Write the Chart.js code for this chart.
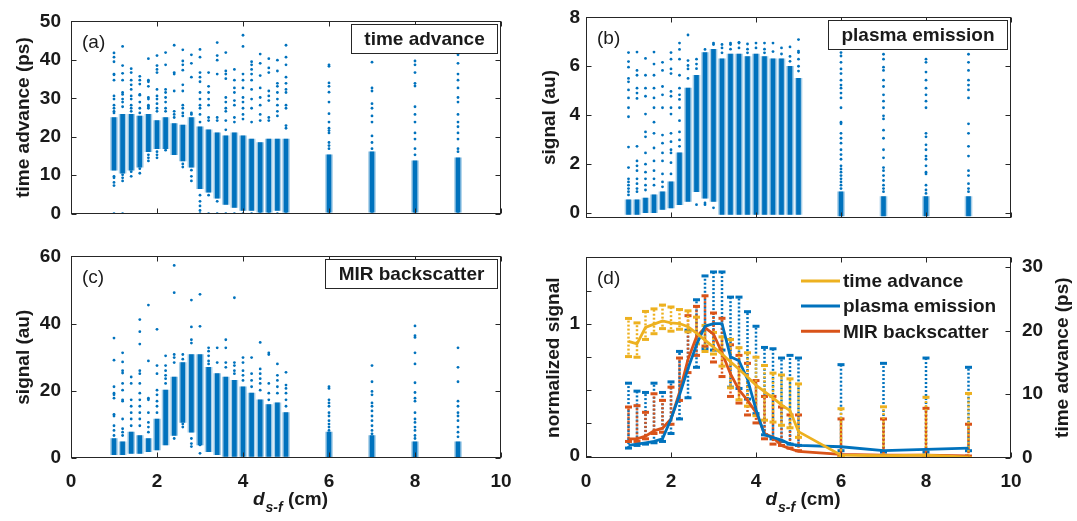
<!DOCTYPE html>
<html>
<head>
<meta charset="utf-8">
<script src="https://cdn.jsdelivr.net/npm/chart.js@4.4.0/dist/chart.umd.min.js"></script>
<style>
  html, body { margin: 0; padding: 0; background: #fff; }
  body { width: 1077px; height: 521px; position: relative; overflow: hidden; }
  canvas { position: absolute; }
</style>
</head>
<body>
<canvas id="chartA" width="540" height="235" style="left:0;top:0"></canvas>
<canvas id="chartB" width="547" height="235" style="left:530px;top:0"></canvas>
<canvas id="chartC" width="540" height="286" style="left:0;top:235px"></canvas>
<canvas id="chartD" width="547" height="286" style="left:530px;top:235px"></canvas>
<script>
// source-to-focus distance of each measurement column (cm)
const xCols = [1.0, 1.2, 1.4, 1.6, 1.8, 2.0, 2.2, 2.4, 2.6, 2.8, 3.0, 3.2, 3.4, 3.6, 3.8, 4.0, 4.2, 4.4, 4.6, 4.8, 5.0, 6, 7, 8, 9];
const xTicks = [0, 2, 4, 6, 8, 10];

// (a) time advance (ps): dense band per column + scattered shots
const taTicks = [0, 10, 20, 30, 40, 50];
const taCoreLo = [11.3, 10.5, 11.3, 12.1, 16.1, 16.9, 16.9, 15.3, 13.7, 12.1, 6.5, 5.6, 4.0, 2.4, 1.6, 0.8, 0.8, 0.4, 0.4, 0.8, 0.4, 0.4, 0.4, 0.4, 0.4];
const taCoreHi = [25.0, 25.8, 25.8, 25.4, 25.8, 24.2, 25.0, 23.4, 23.0, 25.0, 22.6, 21.8, 21.0, 20.2, 21.0, 20.2, 19.4, 18.5, 19.4, 19.4, 19.4, 15.3, 16.1, 13.7, 14.5];
const taShots = [
  [41.8, 40.7, 39.5, 36.3, 36.1, 34.7, 30.6, 29.8, 28.2, 27.4, 26.6, 26.2, 9.7, 9.3, 8.1, 7.3, 0],
  [43.5, 38.5, 36.5, 34.7, 31.5, 31.0, 29.8, 29.0, 27.8, 10.1, 9.3, 8.5, 0],
  [37.7, 36.7, 34.7, 33.5, 32.3, 30.6, 29.8, 28.2, 27.4, 26.6, 10.9, 9.7],
  [35.7, 34.7, 33.7, 31.0, 30.8, 29.0, 27.4, 26.2, 12.5, 11.7, 10.5],
  [40.3, 34.7, 34.3, 33.1, 30.2, 29.8, 28.2, 27.8, 27.4, 15.3, 14.5, 13.7],
  [41.1, 38.5, 37.5, 36.7, 32.3, 30.6, 29.8, 28.6, 27.4, 26.6, 16.1, 15.3, 14.5],
  [41.9, 38.7, 32.3, 31.5, 30.2, 29.0, 27.4, 26.6, 16.5],
  [43.8, 36.7, 36.3, 31.9, 26.6, 25.8, 25.0],
  [42.6, 39.7, 38.7, 37.3, 33.5, 31.9, 28.2, 27.4, 26.2, 25.4, 12.9, 12.1],
  [41.3, 39.1, 35.5, 26.2, 25.8, 11.3, 9.7, 8.5],
  [42.7, 40.7, 36.7, 35.5, 34.3, 31.5, 29.8, 28.2, 27.4, 25.8, 23.8, 4.8, 3.2, 2.0, 0.8, 0],
  [36.7, 33.1, 31.5, 29.8, 28.2, 25.0, 24.2, 4.8, 0],
  [44.5, 41.1, 39.9, 36.3, 25.0, 24.2, 3.2, 0],
  [41.9, 37.1, 36.3, 35.1, 30.2, 29.0, 27.4, 26.6, 24.2, 21.8, 0],
  [37.5, 34.7, 32.7, 31.5, 29.4, 28.2, 25.0, 23.8, 0],
  [46.4, 43.5, 36.3, 34.7, 32.7, 30.2, 29.0, 27.4, 25.8, 24.6, 0],
  [39.5, 38.7, 37.5, 36.3, 34.7, 32.3, 29.8, 27.4, 23.8, 0],
  [41.5, 39.1, 35.9, 32.7, 30.2, 28.2, 25.8, 24.2, 0],
  [40.3, 37.9, 36.7, 31.9, 30.6, 29.4, 25.0, 24.2, 0],
  [39.9, 37.1, 33.9, 33.1, 31.5, 29.8, 28.2, 26.6, 25.4, 0],
  [43.8, 40.7, 38.7, 35.5, 33.9, 32.3, 31.5, 28.2, 27.4, 22.9, 22.2, 0],
  [38.7, 38.3, 34.0, 33.1, 31.6, 29.0, 26.0, 23.8, 22.2, 21.6, 21.0, 18.5, 17.7, 16.9, 0],
  [42.5, 39.4, 32.7, 31.9, 28.6, 27.4, 25.4, 23.8, 20.2, 18.5, 16.9, 0],
  [39.7, 38.7, 36.7, 33.9, 33.2, 27.8, 25.8, 23.8, 21.0, 19.4, 16.9, 15.3, 0],
  [41.3, 39.1, 36.3, 34.7, 32.7, 30.2, 29.0, 25.8, 23.8, 22.6, 21.0, 19.4, 16.9, 16.1, 0]
];

// (b) plasma emission signal (au)
const plTicks = [0, 2, 4, 6, 8];
const plCoreLo = [-0.07, -0.07, 0, 0, 0.13, 0.2, 0.33, 0.46, 0.86, 0.6, 0.46, -0.07, -0.07, -0.07, -0.07, -0.07, -0.07, -0.07, -0.07, -0.07, -0.07, -0.13, -0.13, -0.13, -0.13];
const plCoreHi = [0.53, 0.53, 0.6, 0.73, 0.86, 1.26, 2.45, 5.1, 5.63, 6.56, 6.69, 6.3, 6.5, 6.5, 6.4, 6.5, 6.4, 6.3, 6.3, 6.0, 5.5, 0.86, 0.66, 0.66, 0.66];
const plShots = [
  [6.56, 6.19, 5.96, 5.50, 5.36, 5.03, 4.70, 4.30, 3.93, 2.69, 1.85, 1.39, 1.26, 1.13, 0.99, 0.86, 0.73],
  [6.58, 5.83, 5.63, 5.10, 4.90, 4.68, 2.72, 2.12, 1.92, 1.72, 1.39, 1.19, 0.99, 0.86],
  [6.32, 5.63, 5.10, 4.77, 4.04, 3.31, 3.11, 2.45, 1.99, 1.66, 1.39, 1.13, 0.93],
  [6.58, 6.09, 5.63, 5.10, 4.70, 4.30, 3.71, 3.25, 2.65, 2.12, 1.72, 1.39, 1.13],
  [6.16, 5.83, 5.17, 4.83, 4.30, 3.18, 2.85, 2.45, 2.12, 1.59, 1.26, 1.06],
  [6.56, 6.29, 5.89, 5.70, 4.97, 4.77, 4.30, 4.04, 3.25, 2.91, 2.58, 2.45, 2.05, 1.59],
  [6.95, 6.69, 6.29, 5.63, 5.10, 4.83, 4.64, 4.30, 3.77, 3.31, 2.98, 2.72],
  [7.28, 6.23, 6.03, 5.89, 5.50],
  [6.29, 6.09, 5.90, 0.33],
  [6.69, 0.40, 0.33],
  [6.95, 6.89, 0.20],
  [6.89, 6.75, 6.55, 0.13],
  [6.95, 6.89, 6.70],
  [6.98, 6.95, 6.75],
  [6.91, 6.70, 6.55],
  [6.95, 6.75],
  [6.95, 6.70, 6.55],
  [6.95, 6.60],
  [6.75, 6.50],
  [6.79, 6.40, 6.20],
  [7.09, 6.62, 6.56, 6.29, 6.00, 5.80],
  [6.56, 6.42, 6.16, 5.89, 5.70, 5.43, 5.23, 5.10, 4.90, 4.70, 4.30, 3.71, 3.64, 3.25, 3.05, 2.85, 2.58, 2.38, 2.19, 1.92, 1.79, 1.66, 1.52, 1.39, 1.26, 1.13, 0.99],
  [6.49, 6.29, 5.96, 5.83, 5.43, 5.17, 4.83, 4.57, 4.30, 3.97, 3.84, 3.38, 3.05, 2.58, 2.25, 1.85, 1.72, 1.52, 1.32, 1.13, 0.99, 0.86],
  [6.82, 6.29, 6.16, 5.76, 5.43, 5.10, 4.83, 4.57, 4.30, 3.25, 3.11, 2.78, 2.58, 2.32, 2.19, 1.92, 1.66, 1.59, 1.13, 0.93, 0.79],
  [6.49, 6.16, 5.83, 5.43, 5.23, 5.03, 4.70, 3.64, 3.25, 2.72, 2.32, 1.72, 1.52, 1.19, 0.99, 0.86]
];

// (c) MIR backscatter signal (au)
const mirTicks = [0, 20, 40, 60];
const mirCoreLo = [1.0, 1.0, 1.4, 1.4, 1.9, 2.4, 3.9, 6.7, 10.6, 7.7, 3.9, 1.9, 1.0, 0.5, 0.5, 0.5, 0.5, 0.5, 0.5, 0.5, 0.5, 0, 0, 0, 0];
const mirCoreHi = [5.8, 4.8, 7.7, 6.7, 5.8, 11.6, 20.2, 24.1, 28.4, 30.8, 30.8, 27.0, 25.1, 24.1, 23.1, 21.2, 19.3, 17.3, 15.9, 16.4, 13.5, 7.7, 6.7, 4.8, 4.8];
const mirShots = [
  [35.7, 29.1, 21.2, 19.3, 18.8, 17.8, 13.0, 12.5, 9.6, 8.2, 6.7],
  [31.3, 28.6, 26.0, 25.3, 22.2, 20.2, 17.3, 16.9, 11.6, 8.7, 7.7, 6.7],
  [24.1, 22.2, 17.3, 15.4, 13.5, 11.6, 9.6],
  [41.2, 37.6, 33.9, 26.0, 25.1, 22.2, 19.3, 17.3, 15.4, 13.5, 11.6, 9.6],
  [45.5, 28.9, 17.8, 17.3, 13.5, 10.6, 9.2, 7.7],
  [38.3, 27.5, 25.1, 20.2, 18.8, 16.9, 15.4, 13.5],
  [30.4, 27.5, 26.0, 24.6, 23.6, 22.2, 6.3, 4.8],
  [57.3, 49.2, 30.8, 29.9, 28.4, 5.8],
  [30.8, 29.4, 10.1, 9.2],
  [47.0, 39.0, 35.2, 34.2, 5.8, 4.3, 3.4],
  [48.7, 39.2, 29.9, 3.9, 1.4],
  [32.8, 31.8, 30.4, 28.9, 28.0],
  [32.8, 28.4],
  [35.2, 32.8, 28.4, 27.0],
  [47.7, 28.4, 27.5, 26.0, 25.1],
  [29.9, 28.4, 26.0, 24.6, 23.1],
  [29.9, 25.1, 23.1, 21.2],
  [34.4, 26.5, 25.1, 23.6, 22.2, 20.2],
  [31.3, 30.8, 22.2, 19.3, 17.3],
  [28.0, 24.6, 23.1, 21.2, 19.3],
  [25.5, 21.7, 20.7, 19.3, 17.3, 15.4],
  [21.2, 20.7, 17.3, 16.4, 15.4, 13.5, 12.5, 11.1, 10.1, 9.2, 8.2],
  [27.5, 22.7, 19.8, 18.8, 16.4, 15.4, 14.0, 12.5, 11.1, 9.6, 8.2, 7.2],
  [39.3, 36.4, 35.9, 31.3, 28.0, 22.4, 19.5, 17.8, 16.9, 13.5, 11.6, 10.6, 9.2, 8.2, 6.7, 5.8],
  [32.8, 27.0, 22.7, 16.9, 15.4, 13.5, 12.5, 11.1, 9.2, 7.7, 6.3]
];

// (d) column summaries: line value and error bar ends
const normTicks = [0, 0.25, 0.5, 0.75, 1, 1.25];
const normLabels = ['0', '', '', '', '1', ''];
const taRightTicks = [0, 10, 20, 30];
const taLine = [18.3, 17.9, 20.5, 21.0, 21.5, 21.2, 21.1, 20.6, 19.6, 18.5, 17.4, 16.3, 15.1, 13.9, 12.7, 11.4, 10.4, 9.4, 8.3, 7.4, 4.1, 0.4, 0.3, 0.4, 0.1];
const taHi = [21.9, 21.2, 23.0, 23.4, 24.0, 23.7, 23.3, 23.1, 22.1, 20.8, 19.7, 19.0, 18.6, 17.3, 16.5, 15.8, 14.5, 13.3, 13.0, 12.4, 11.6, 7.7, 8.0, 9.5, 10.1];
const taLo = [15.9, 15.8, 18.6, 19.5, 20.3, 19.9, 20.2, 19.8, 17.9, 16.7, 16.3, 14.4, 11.0, 9.1, 8.1, 6.6, 5.9, 5.6, 5.1, 4.7, 3.2, 0.1, 0.1, 0.1, 0];
const plLine = [0.08, 0.09, 0.10, 0.11, 0.13, 0.28, 0.46, 0.66, 0.84, 0.98, 1.0, 1.0, 0.75, 0.72, 0.58, 0.35, 0.16, 0.14, 0.12, 0.09, 0.08, 0.07, 0.04, 0.05, 0.06];
const plHi = [0.55, 0.49, 0.48, 0.55, 0.48, 0.56, 0.79, 0.95, 1.18, 1.36, 1.39, 1.39, 1.20, 1.20, 1.09, 0.98, 0.82, 0.81, 0.74, 0.76, 0.74, 0.69, 0.70, 0.74, 0.67];
const plLo = [0.06, 0.08, 0.09, 0.10, 0.11, 0.17, 0.28, 0.44, 0.67, 0.81, 0.80, 0.80, 0.52, 0.51, 0.43, 0.32, 0.16, 0.13, 0.11, 0.09, 0.08, 0.04, 0.03, 0.03, 0.04];
const mirLine = [0.13, 0.13, 0.15, 0.19, 0.21, 0.28, 0.48, 0.73, 0.90, 0.97, 0.92, 0.78, 0.62, 0.50, 0.42, 0.33, 0.17, 0.14, 0.08, 0.055, 0.035, 0.012, 0.007, 0.007, 0];
const mirHi = [0.37, 0.38, 0.33, 0.47, 0.42, 0.52, 0.74, 1.06, 1.13, 1.21, 1.08, 1.04, 0.84, 0.76, 0.70, 0.57, 0.45, 0.45, 0.37, 0.31, 0.31, 0.28, 0.28, 0.36, 0.24];
const mirLo = [0.11, 0.11, 0.13, 0.17, 0.18, 0.24, 0.42, 0.63, 0.76, 0.83, 0.71, 0.60, 0.45, 0.40, 0.31, 0.25, 0.13, 0.09, 0.08, 0.06, 0.04, 0, 0, 0, 0];

const BLUE = '#0072BD', ORANGE = '#D95319', YELLOW = '#EDB120', INK = '#1a1a1a', EDGE = '#262626';
const HALO = 'rgba(0,114,189,0.35)';
const FONT = '"Liberation Sans", Arial, Helvetica, sans-serif';
Chart.defaults.font.family = FONT;
Chart.defaults.font.size = 19;
Chart.defaults.font.weight = 'bold';
Chart.defaults.color = INK;

// matlab-ish box, inward ticks, panel letters, label boxes, error bars
const decor = {
  id: 'decor',
  beforeDatasetsDraw(chart, args, o) {
    if (!o.errorBars) return;
    const ctx = chart.ctx, a = chart.chartArea, xs = chart.scales.x;
    ctx.save();
    ctx.beginPath();
    ctx.rect(a.left, a.top, a.right - a.left, a.bottom - a.top);
    ctx.clip();
    o.errorBars.forEach((k, n) => {
      const ds = chart.data.datasets[k];
      const ys = chart.scales[ds.yAxisID];
      ctx.strokeStyle = ds.borderColor;
      ctx.fillStyle = ds.borderColor;
      ctx.lineWidth = 2.5;
      ctx.setLineDash([2, 2]);
      ctx.lineDashOffset = n;
      ds.data.forEach((p, i) => {
        const px = xs.getPixelForValue(p.x);
        const top = ys.getPixelForValue(ds.errHi[i]);
        const bot = ys.getPixelForValue(ds.errLo[i]);
        ctx.beginPath();
        ctx.moveTo(px, bot);
        ctx.lineTo(px, top);
        ctx.stroke();
        ctx.fillRect(px - 3.5, top - 1.5, 7, 3);
        ctx.fillRect(px - 3.5, bot - 1.5, 7, 3);
      });
    });
    ctx.restore();
  },
  afterDatasetsDraw(chart, args, o) {
    const ctx = chart.ctx, a = chart.chartArea;
    const xs = chart.scales.x, ys = chart.scales.y, y2 = chart.scales.y2;
    const seg = (x1, y1, x2, yy2) => { ctx.beginPath(); ctx.moveTo(x1, y1); ctx.lineTo(x2, yy2); ctx.stroke(); };
    ctx.save();
    ctx.setLineDash([]);
    ctx.strokeStyle = EDGE;
    ctx.lineWidth = 1;
    const l = Math.round(a.left) + 0.5, r = Math.round(a.right) - 0.5;
    const t = Math.round(a.top) + 0.5, b = Math.round(a.bottom) - 0.5;
    ctx.strokeRect(l, t, r - l, b - t);
    const L = 5;
    xs.ticks.forEach(tk => {
      const px = Math.round(xs.getPixelForValue(tk.value)) + 0.5;
      seg(px, b, px, b - L); seg(px, t, px, t + L);
    });
    ys.ticks.forEach(tk => {
      const py = Math.round(ys.getPixelForValue(tk.value)) + 0.5;
      seg(l, py, l + L, py);
      if (!y2) seg(r, py, r - L, py);
    });
    if (y2) y2.ticks.forEach(tk => {
      const py = Math.round(y2.getPixelForValue(tk.value)) + 0.5;
      seg(r, py, r - L, py);
    });

    ctx.fillStyle = INK;
    ctx.textBaseline = 'middle';
    if (o.letter) {
      ctx.font = `19px ${FONT}`;
      ctx.textAlign = 'left';
      ctx.fillText(o.letter, a.left + 11, a.top + 21);
    }
    if (o.tag) {
      ctx.font = `bold 19px ${FONT}`;
      const w = Math.round(ctx.measureText(o.tag).width + 26), h = 29;
      const x0 = Math.round(a.right - 4 - w) + 0.5, y0 = Math.round(a.top + 3) + 0.5;
      ctx.fillStyle = '#fff';
      ctx.fillRect(x0, y0, w, h);
      ctx.strokeStyle = EDGE;
      ctx.strokeRect(x0, y0, w, h);
      ctx.fillStyle = INK;
      ctx.textAlign = 'center';
      ctx.fillText(o.tag, x0 + w / 2, y0 + h / 2 + 1);
    }
    if (o.legend) {
      ctx.font = `bold 19px ${FONT}`;
      ctx.textAlign = 'left';
      chart.data.datasets.forEach((ds, i) => {
        const y = a.top + 23.5 + i * 25.2;
        ctx.strokeStyle = ds.borderColor;
        ctx.lineWidth = 3;
        seg(a.right - 210, y, a.right - 171, y);
        ctx.fillStyle = INK;
        ctx.fillText(ds.label, a.right - 168, y + 1);
      });
    }
    if (o.rightTitle) {
      ctx.save();
      ctx.translate(chart.width - 14, (a.top + a.bottom) / 2);
      ctx.rotate(-Math.PI / 2);
      ctx.font = `bold 19px ${FONT}`;
      ctx.textAlign = 'center';
      ctx.fillStyle = INK;
      ctx.fillText(o.rightTitle, 0, 0);
      ctx.restore();
    }
    if (o.xTitle) {
      const f1 = `italic bold 19px ${FONT}`, f2 = `italic bold 14px ${FONT}`, f3 = `bold 19px ${FONT}`;
      ctx.textAlign = 'left';
      ctx.textBaseline = 'alphabetic';
      ctx.font = f1; const w1 = ctx.measureText('d').width;
      ctx.font = f2; const w2 = ctx.measureText('s-f').width;
      ctx.font = f3; const w3 = ctx.measureText(' (cm)').width;
      let x = (a.left + a.right) / 2 + 4 - (w1 + w2 + w3) / 2;
      const base = a.bottom + 47;
      ctx.fillStyle = INK;
      ctx.font = f1; ctx.fillText('d', x, base); x += w1 + 1;
      ctx.font = f2; ctx.fillText('s-f', x, base + 7); x += w2;
      ctx.font = f3; ctx.fillText(' (cm)', x, base);
    }
    ctx.restore();
  }
};
Chart.register(decor);

function xAxis(withLabels) {
  return {
    type: 'linear', min: 0, max: 10, offset: false,
    grid: { display: false, drawTicks: false },
    border: { display: false },
    afterBuildTicks: s => { s.ticks = xTicks.map(v => ({ value: v })); },
    afterFit: s => { s.height = withLabels ? 63 : 12; },
    ticks: { display: withLabels, padding: 12, autoSkip: false, maxRotation: 0, callback: v => String(v) }
  };
}

function yAxis(o) {
  return {
    type: 'linear', position: o.position || 'left', min: o.min, max: o.max,
    grid: { display: false, drawTicks: false },
    border: { display: false },
    afterBuildTicks: s => { s.ticks = o.ticks.map(v => ({ value: v })); },
    afterFit: s => { s.width = o.width; },
    ticks: { padding: o.tickPad, autoSkip: false, callback: (v, i) => o.labels ? o.labels[i] : String(v) },
    title: { display: !!o.title, text: o.title, padding: { top: o.titlePad || 0, bottom: 0 }, font: { size: 19, weight: 'bold' } }
  };
}

function scatterPanel(id, lo, hi, shots, xLabels, y, pad, deco) {
  const band = xCols.map((x, i) => ({ x, y: [lo[i], hi[i]] }));
  return new Chart(document.getElementById(id), {
    type: 'scatter',
    data: {
      datasets: [
        {
          type: 'scatter',
          data: shots.flatMap((ys, i) => ys.map(v => ({ x: xCols[i], y: v }))),
          pointRadius: 1.4, pointBackgroundColor: BLUE, pointBorderWidth: 0
        },
        {
          type: 'bar', data: band,
          backgroundColor: BLUE, borderWidth: 0, borderSkipped: false, barThickness: 4
        },
        {
          type: 'bar', data: band, grouped: false,
          backgroundColor: HALO, borderWidth: 0, borderSkipped: false, barThickness: 7
        }
      ]
    },
    options: {
      responsive: false, animation: false, events: [],
      layout: { padding: pad },
      scales: { x: xAxis(xLabels), y: yAxis(y) },
      plugins: { legend: { display: false }, tooltip: { enabled: false }, decor: deco }
    }
  });
}

scatterPanel('chartA', taCoreLo, taCoreHi, taShots, false,
  { min: 0, max: 50, ticks: taTicks, width: 71, tickPad: 10, title: 'time advance (ps)', titlePad: 12 },
  { top: 16, right: 39, bottom: 0, left: 0 },
  { letter: '(a)', tag: 'time advance' });

scatterPanel('chartB', plCoreLo, plCoreHi, plShots, false,
  { min: -0.2, max: 8, ticks: plTicks, width: 56, tickPad: 6, title: 'signal (au)', titlePad: 8 },
  { top: 16, right: 66, bottom: 0, left: 0 },
  { letter: '(b)', tag: 'plasma emission' });

scatterPanel('chartC', mirCoreLo, mirCoreHi, mirShots, true,
  { min: 0, max: 60, ticks: mirTicks, width: 71, tickPad: 10, title: 'signal (au)', titlePad: 12 },
  { top: 16, right: 39, bottom: 0, left: 0 },
  { letter: '(c)', tag: 'MIR backscatter', xTitle: true });

const lineSet = (label, color, axis, vals, hi, lo) => ({
  label, yAxisID: axis,
  data: xCols.map((x, i) => ({ x, y: vals[i] })),
  errHi: hi, errLo: lo,
  borderColor: color, backgroundColor: color,
  borderWidth: 2.8, pointRadius: 0, showLine: true, tension: 0, fill: false
});

new Chart(document.getElementById('chartD'), {
  type: 'scatter',
  data: {
    datasets: [
      lineSet('time advance', YELLOW, 'y2', taLine, taHi, taLo),
      lineSet('plasma emission', BLUE, 'y', plLine, plHi, plLo),
      lineSet('MIR backscatter', ORANGE, 'y', mirLine, mirHi, mirLo)
    ]
  },
  options: {
    responsive: false, animation: false, events: [],
    layout: { padding: { top: 16, right: 0, bottom: 0, left: 0 } },
    scales: {
      x: xAxis(true),
      y: yAxis({ min: -0.015, max: 1.5, ticks: normTicks, labels: normLabels, width: 56, tickPad: 6, title: 'normalized signal', titlePad: 12 }),
      y2: yAxis({ position: 'right', min: -0.05, max: 31.5, ticks: taRightTicks, width: 66, tickPad: 11 })
    },
    plugins: {
      legend: { display: false }, tooltip: { enabled: false },
      decor: { letter: '(d)', legend: true, rightTitle: 'time advance (ps)', xTitle: true, errorBars: [1, 2, 0] }
    }
  }
});
</script>
</body>
</html>
